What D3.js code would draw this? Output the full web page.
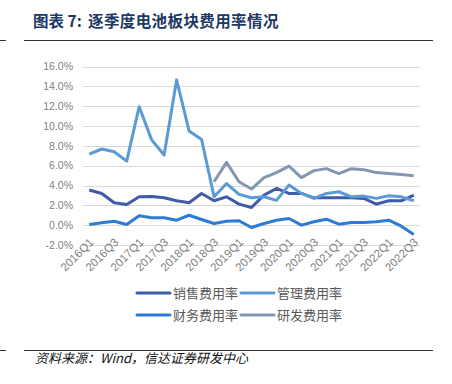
<!DOCTYPE html>
<html><head><meta charset="utf-8">
<script src="https://cdn.jsdelivr.net/npm/d3@7"></script>
<style>body{margin:0;background:#fff;}svg{display:block;}</style>
</head><body>
<svg id="c" width="452" height="384"></svg>
<script>
const quarters = ["2016Q1","2016Q2","2016Q3","2016Q4","2017Q1","2017Q2","2017Q3","2017Q4","2018Q1","2018Q2","2018Q3","2018Q4","2019Q1","2019Q2","2019Q3","2019Q4","2020Q1","2020Q2","2020Q3","2020Q4","2021Q1","2021Q2","2021Q3","2021Q4","2022Q1","2022Q2","2022Q3"];
const sales = [3.54,3.2,2.26,2.09,2.86,2.9,2.76,2.46,2.26,3.2,2.46,2.86,2.12,1.78,3.03,3.7,3.2,3.2,2.76,2.76,2.76,2.76,2.7,2.12,2.46,2.46,3.03];
const admin = [7.17,7.68,7.4,6.46,11.95,8.6,7.07,14.65,9.5,8.65,2.86,4.2,3.1,2.76,2.86,2.5,4.04,3.2,2.7,3.2,3.37,2.86,2.93,2.7,2.96,2.86,2.46];
const fin = [0.07,0.24,0.4,0.07,0.94,0.74,0.74,0.5,1.0,0.57,0.17,0.4,0.44,-0.24,0.17,0.5,0.67,0.0,0.34,0.6,0.1,0.27,0.27,0.34,0.5,-0.1,-0.94];
const rd = [null,null,null,null,null,null,null,null,null,null,4.38,6.33,4.38,3.64,4.8,5.3,5.96,4.8,5.5,5.7,5.2,5.7,5.6,5.3,5.2,5.1,4.98];
const yTicks = [-2,0,2,4,6,8,10,12,14,16];
const seriesNames = ["销售费用率","管理费用率","财务费用率","研发费用率"];
const seriesColors = ["#3F5BA9","#5B9BD5","#2E7BD6","#8497B0"];
const seriesData = [sales, admin, fin, rd];

const svg = d3.select("#c");
const x = d3.scaleBand().domain(quarters).range([83, 420]);
const y = d3.scaleLinear().domain([-2, 16]).range([245, 66.5]);

// header/footer rules
[40.5, 350.5].forEach(yy=>{
  svg.append("line").attr("x1",0).attr("x2",6).attr("y1",yy).attr("y2",yy).attr("stroke","#333").attr("stroke-width",1);
  svg.append("line").attr("x1",24).attr("x2",433).attr("y1",yy).attr("y2",yy).attr("stroke","#333").attr("stroke-width",1);
});

const title = svg.append("text").attr("y",27)
  .attr("font-family","'Noto Sans CJK SC'").attr("font-weight","bold").attr("font-size",15.5)
  .attr("fill","#203864");
title.append("tspan").attr("x",33).text("图表 7:");
title.append("tspan").attr("x",88).attr("letter-spacing",0.4).text("逐季度电池板块费用率情况");

svg.append("text").attr("x",35).attr("y",362.5)
  .attr("font-family","'Noto Sans CJK SC'").attr("font-style","italic").attr("font-size",13)
  .attr("fill","#111").text("资料来源：Wind，信达证券研发中心");

// grid
svg.append("g").selectAll("line").data(yTicks).join("line")
  .attr("x1",83).attr("x2",420).attr("y1",d=>Math.round(y(d))+0.5).attr("y2",d=>Math.round(y(d))+0.5)
  .attr("stroke","#d9d9d9").attr("stroke-width",1);

// y labels
svg.append("g").selectAll("text").data(yTicks).join("text")
  .attr("x",73).attr("y",d=>y(d)).attr("dy","0.35em").attr("text-anchor","end")
  .attr("font-family","'Liberation Sans', Arial").attr("font-size",10.5).attr("fill","#7f7f7f")
  .text(d=>d.toFixed(1)+"%");

// x labels
const xLabels = quarters.filter((d,i)=>i%2===0);
svg.append("g").selectAll("text").data(xLabels).join("text")
  .attr("transform",d=>`translate(${x(d)+x.bandwidth()/2+5},${243}) rotate(-45)`)
  .attr("text-anchor","end")
  .attr("font-family","'Liberation Sans', Arial").attr("font-size",11.5).attr("fill","#7f7f7f")
  .text(d=>d);

// lines
const line = d3.line().defined(d=>d[1]!==null).x(d=>x(d[0])+x.bandwidth()/2).y(d=>y(d[1]));
seriesData.forEach((s,k)=>{
  svg.append("path").datum(quarters.map((q,i)=>[q,s[i]]))
    .attr("d",line).attr("fill","none").attr("stroke",seriesColors[k])
    .attr("stroke-width",3).attr("stroke-linejoin","round");
});

// legend
const legPos = [[137,293],[241,293],[137,315],[241,315]];
seriesNames.forEach((n,k)=>{
  const [lx,ly]=legPos[k];
  svg.append("line").attr("x1",lx).attr("x2",lx+33).attr("y1",ly).attr("y2",ly)
    .attr("stroke",seriesColors[k]).attr("stroke-width",3).attr("stroke-linecap","round");
  svg.append("text").attr("x",lx+36).attr("y",ly).attr("dy","0.35em")
    .attr("font-family","'Noto Sans CJK SC'").attr("font-size",13).attr("fill","#595959").text(n);
});
</script>
</body></html>
